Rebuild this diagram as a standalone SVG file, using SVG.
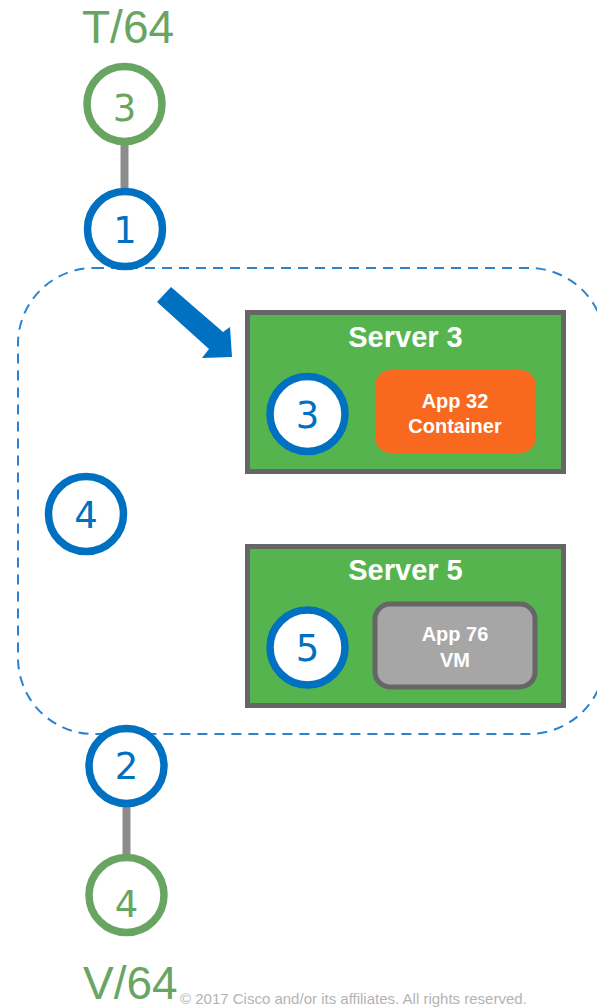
<svg xmlns="http://www.w3.org/2000/svg" width="597" height="1007" viewBox="0 0 597 1007">
<style>
.ring-b{fill:#fff;stroke:#0070c0;stroke-width:7.5}
.ring-g{fill:#fff;stroke:#69a562;stroke-width:7.5}
.num{font-family:"DejaVu Sans",sans-serif;font-size:37px;text-anchor:middle}
.nb{fill:#0070c0}
.ng{fill:#69a562}
.big{font-family:"Liberation Sans",Arial,sans-serif;font-size:46px;fill:#69a562}
.srv{fill:#56b44e;stroke:#666;stroke-width:5}
.title{font-family:"Liberation Sans",Arial,sans-serif;font-weight:bold;font-size:29px;fill:#fff;text-anchor:middle}
.app{font-family:"Liberation Sans",Arial,sans-serif;font-weight:bold;font-size:20px;fill:#fff;text-anchor:middle}
.link{stroke:#8c8c8c;stroke-width:8;fill:none}
</style>
<rect id="zone" x="18" y="268" width="587" height="466" rx="76" ry="76" fill="none" stroke="#2b83d0" stroke-width="2" stroke-dasharray="10 7"/>
<g id="connectors">
<line class="link" x1="124.5" y1="145" x2="124.5" y2="192"/>
<line class="link" x1="126.5" y1="806" x2="126.5" y2="855"/>
<polygon fill="#0070c0" points="171,287 223,332 230,327 232,357 202,358 209,349 157,302"/>
<rect x="344" y="409.5" width="33" height="9" fill="#f26522"/>
<rect x="344" y="643" width="33" height="10" fill="#666"/>
</g>
<text id="label-t64" class="big" x="82" y="43">T/64</text>
<g id="node-g3"><circle class="ring-g" cx="124.5" cy="104" r="37.5"/><text class="num ng" x="124.5" y="121">3</text></g>
<g id="node-b1"><circle class="ring-b" cx="125" cy="229" r="37.5"/><text class="num nb" x="125" y="242.5">1</text></g>
<g id="node-b4"><circle class="ring-b" cx="86" cy="514" r="37.5"/><text class="num nb" x="86" y="527.5">4</text></g>
<g id="node-b2"><circle class="ring-b" cx="126.5" cy="766" r="37.5"/><text class="num nb" x="126.5" y="779">2</text></g>
<g id="node-g4"><circle class="ring-g" cx="126.5" cy="895" r="37.5"/><text class="num ng" x="126.5" y="917">4</text></g>
<g id="server3">
<rect class="srv" x="247.5" y="312.5" width="316" height="159"/>
<text class="title" x="405.5" y="347">Server 3</text>
<rect x="375" y="370" width="161" height="83" rx="16" fill="#f8681e"/>
<text class="app" x="455" y="408">App 32</text>
<text class="app" x="455" y="433">Container</text>
<circle class="ring-b" cx="307.5" cy="414" r="37.5"/><text class="num nb" x="307.5" y="427.5">3</text>
</g>
<g id="server5">
<rect class="srv" x="247.5" y="546.5" width="316" height="159"/>
<text class="title" x="405.5" y="580">Server 5</text>
<rect x="375" y="604" width="160" height="83" rx="15" fill="#a6a6a6" stroke="#666" stroke-width="5"/>
<text class="app" x="455" y="641">App 76</text>
<text class="app" x="455" y="667">VM</text>
<circle class="ring-b" cx="307.5" cy="647.5" r="37.5"/><text class="num nb" x="307.5" y="661">5</text>
</g>
<text id="label-v64" class="big" x="83" y="999">V/64</text>
<text id="copyright" x="180" y="1004" font-family="Liberation Sans,Arial,sans-serif" font-size="15" fill="#b3b3b3">© 2017  Cisco and/or its affiliates. All rights reserved.</text>
</svg>
